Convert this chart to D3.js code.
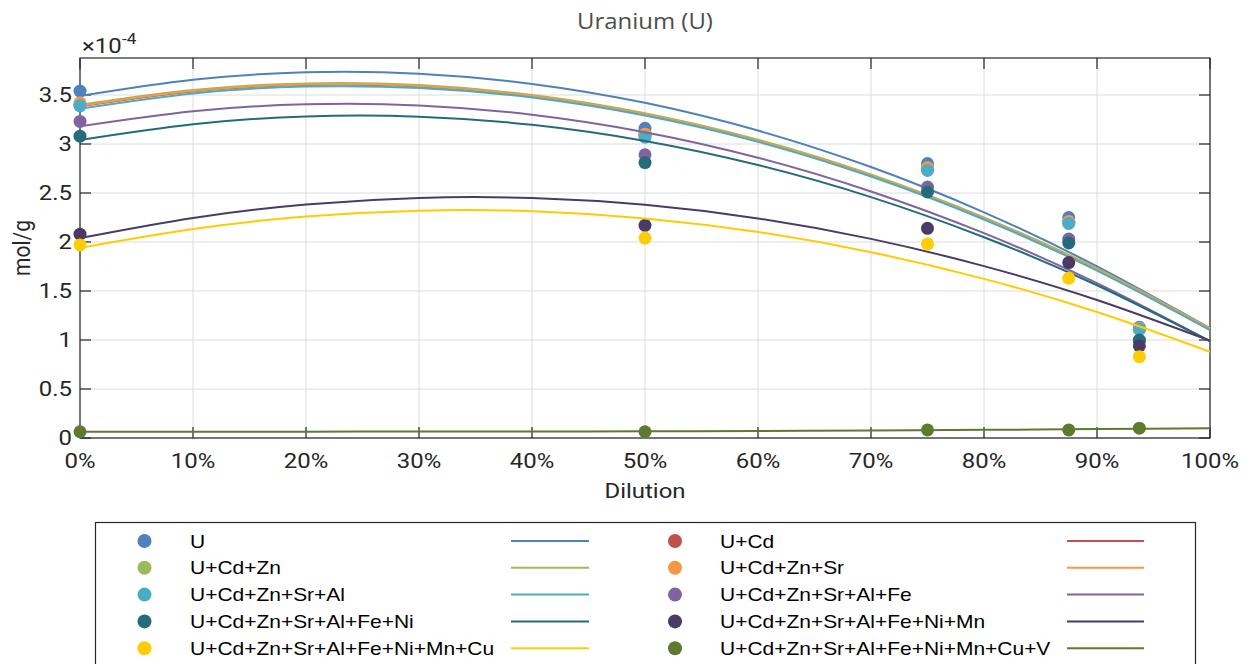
<!DOCTYPE html>
<html><head><meta charset="utf-8">
<script src="https://cdn.jsdelivr.net/npm/d3@7"></script>
<style>body{margin:0;background:#fff}svg{display:block}</style>
</head><body>
<svg id="c" width="1250" height="664"></svg>
<script>
// ---------- data ----------
const dilution = [0, 50, 75, 87.5, 93.75];              // measured points (%)
const fitDilution = [0, 10, 20, 30, 40, 50, 60, 70, 80, 90, 100]; // fit curve samples (%)

const seriesNames = ["U", "U+Cd", "U+Cd+Zn", "U+Cd+Zn+Sr", "U+Cd+Zn+Sr+Al",
  "U+Cd+Zn+Sr+Al+Fe", "U+Cd+Zn+Sr+Al+Fe+Ni", "U+Cd+Zn+Sr+Al+Fe+Ni+Mn",
  "U+Cd+Zn+Sr+Al+Fe+Ni+Mn+Cu", "U+Cd+Zn+Sr+Al+Fe+Ni+Mn+Cu+V"];
const seriesColors = ["#4f81bd", "#c0504d", "#9bbb59", "#f79646", "#4bacc6",
  "#8064a2", "#246c7a", "#4a3b66", "#ffcc00", "#5f7a2f"];

// measured values (x1e-4 mol/g)
const ptsU      = [3.54, 3.16, 2.80, 2.25, 1.13];
const ptsCd     = [3.40, 3.10, 2.74, 2.20, 1.11];
const ptsZn     = [3.40, 3.10, 2.75, 2.20, 1.11];
const ptsSr     = [3.42, 3.10, 2.76, 2.21, 1.12];
const ptsAl     = [3.39, 3.07, 2.73, 2.19, 1.11];
const ptsFe     = [3.23, 2.89, 2.56, 2.03, 0.99];
const ptsNi     = [3.08, 2.81, 2.51, 1.99, 1.00];
const ptsMn     = [2.08, 2.17, 2.14, 1.79, 0.94];
const ptsCu     = [1.97, 2.04, 1.98, 1.63, 0.83];
const ptsV      = [0.064, 0.064, 0.082, 0.082, 0.100];

// fit curves read at fitDilution (x1e-4 mol/g)
const fitU  = [3.49, 3.655, 3.731, 3.717, 3.613, 3.42, 3.137, 2.765, 2.303, 1.751, 1.12];
const fitCd = [3.385, 3.536, 3.603, 3.586, 3.485, 3.299, 3.029, 2.675, 2.237, 1.715, 1.108];
const fitZn = [3.40, 3.551, 3.618, 3.601, 3.500, 3.314, 3.044, 2.690, 2.252, 1.730, 1.118];
const fitSr = [3.39, 3.541, 3.608, 3.591, 3.490, 3.304, 3.034, 2.680, 2.242, 1.720, 1.113];
const fitAl = [3.36, 3.516, 3.586, 3.572, 3.474, 3.290, 3.022, 2.668, 2.230, 1.708, 1.10];
const fitFe = [3.18, 3.334, 3.405, 3.394, 3.299, 3.121, 2.860, 2.516, 2.090, 1.580, 0.987];
const fitNi = [3.04, 3.201, 3.281, 3.279, 3.196, 3.031, 2.785, 2.458, 2.049, 1.559, 0.987];
const fitMn = [2.04, 2.246, 2.383, 2.450, 2.449, 2.379, 2.240, 2.032, 1.754, 1.408, 0.993];
const fitCu = [1.94, 2.133, 2.260, 2.320, 2.314, 2.241, 2.102, 1.896, 1.624, 1.285, 0.880];
const fitV  = [0.065, 0.065, 0.065, 0.066, 0.067, 0.068, 0.071, 0.076, 0.083, 0.091, 0.100];

const xTickValues = [0, 10, 20, 30, 40, 50, 60, 70, 80, 90, 100];
const xTickLabels = ["0%", "10%", "20%", "30%", "40%", "50%", "60%", "70%", "80%", "90%", "100%"];
const yTickValues = [0, 0.5, 1, 1.5, 2, 2.5, 3, 3.5];
const yTickLabels = ["0", "0.5", "1", "1.5", "2", "2.5", "3", "3.5"];

const titleText = "Uranium (U)";
const xLabel = "Dilution";
const yLabel = "mol/g";

// ---------- build ----------
const allPts = [ptsU, ptsCd, ptsZn, ptsSr, ptsAl, ptsFe, ptsNi, ptsMn, ptsCu, ptsV];
const allFits = [fitU, fitCd, fitZn, fitSr, fitAl, fitFe, fitNi, fitMn, fitCu, fitV];
const series = seriesNames.map((n, i) => ({
  name: n, color: seriesColors[i],
  pts: dilution.map((d, j) => ({x: d, y: allPts[i][j]})),
  fit: fitDilution.map((d, j) => ({x: d, y: allFits[i][j]}))
}));

const SX = 1.14;
const L = 80, R = 1210, T = 58, B = 438;
const x = d3.scaleLinear().domain([0, 100]).range([L, R]);
const y = d3.scaleLinear().domain([0, 3.8776]).range([B, T]);

const svg = d3.select("#c");
const ink = "#262626";

function txt(g, px, py, s, o) {
  o = o || {};
  return g.append("text")
    .attr("transform", `translate(${px},${py}) scale(${SX},1)` + (o.rot ? ` rotate(${o.rot})` : ""))
    .attr("text-anchor", o.anchor || "start")
    .attr("font-family", o.font || "Roboto")
    .attr("font-size", o.size || 21)
    .attr("fill", o.fill || ink)
    .text(s);
}

// grid
const grid = svg.append("g").attr("stroke", "#dcdcdc").attr("stroke-width", 1);
xTickValues.forEach(v => grid.append("line").attr("x1", x(v)).attr("x2", x(v)).attr("y1", T).attr("y2", B));
yTickValues.forEach(v => grid.append("line").attr("x1", L).attr("x2", R).attr("y1", y(v)).attr("y2", y(v)));

// axes box and ticks
const ax = svg.append("g").attr("stroke", ink).attr("stroke-width", 1.2).attr("fill", "none");
ax.append("rect").attr("x", L).attr("y", T).attr("width", R - L).attr("height", B - T);
const tl = 11;
xTickValues.forEach(v => {
  ax.append("line").attr("x1", x(v)).attr("x2", x(v)).attr("y1", B).attr("y2", B - tl);
  ax.append("line").attr("x1", x(v)).attr("x2", x(v)).attr("y1", T).attr("y2", T + tl);
});
yTickValues.forEach(v => {
  ax.append("line").attr("x1", L).attr("x2", L + tl).attr("y1", y(v)).attr("y2", y(v));
  ax.append("line").attr("x1", R).attr("x2", R - tl).attr("y1", y(v)).attr("y2", y(v));
});

// tick labels
const tg = svg.append("g");
xTickValues.forEach((v, i) => txt(tg, x(v), 468, xTickLabels[i], {anchor: "middle"}));
yTickValues.forEach((v, i) => txt(tg, 72, y(v) + 7.4, yTickLabels[i], {anchor: "end"}));
txt(tg, 82, 53, "×10");
txt(tg, 122, 44, "-4", {size: 15});

// axis labels, title
txt(svg, x(50), 498, xLabel, {anchor: "middle"});
txt(svg, 30, (T + B) / 2, yLabel, {anchor: "middle", rot: -90});
txt(svg, x(50), 29, titleText, {anchor: "middle", font: "Open Sans", fill: "#4d4d4d"});

// data
const line = d3.line().x(d => x(d.x)).y(d => y(d.y)).curve(d3.curveNatural);
const dg = svg.append("g");
series.forEach(s => {
  dg.append("g").selectAll("circle").data(s.pts).join("circle")
    .attr("cx", d => x(d.x)).attr("cy", d => y(d.y)).attr("r", 6.5).attr("fill", s.color);
  dg.append("path").datum(s.fit).attr("d", line).attr("fill", "none")
    .attr("stroke", s.color).attr("stroke-width", 2);
});

// legend
const lg = svg.append("g");
lg.append("rect").attr("x", 95.5).attr("y", 522.5).attr("width", 1100).attr("height", 160)
  .attr("fill", "#fff").attr("stroke", ink).attr("stroke-width", 1.2);
const rowY = i => 541 + i * 26.8;
series.forEach((s, i) => {
  const r = Math.floor(i / 2), c = i % 2;
  const dotX = c === 0 ? 144.5 : 675;
  const textX = c === 0 ? 190 : 720;
  const l1 = c === 0 ? 511 : 1067, l2 = c === 0 ? 589 : 1144;
  const yy = rowY(r);
  lg.append("circle").attr("cx", dotX).attr("cy", yy).attr("r", 7).attr("fill", s.color);
  txt(lg, textX, yy + 6.6, s.name, {font: "Liberation Sans", size: 18.4, fill: "#000"});
  lg.append("line").attr("x1", l1).attr("x2", l2).attr("y1", yy).attr("y2", yy)
    .attr("stroke", s.color).attr("stroke-width", 2);
});
</script>
</body></html>
